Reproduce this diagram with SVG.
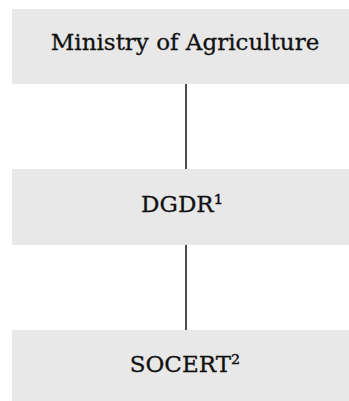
<svg xmlns="http://www.w3.org/2000/svg" width="349" height="401" viewBox="0 0 349 401">
<style>
.box{fill:#e8e8e8}
.lbl{font-family:"DejaVu Serif","Liberation Serif",serif;font-size:23px;fill:#111;stroke:#111;stroke-width:0.3;text-anchor:middle}
.conn{stroke:#111;stroke-width:1.5;fill:none}
</style>
<rect width="349" height="401" fill="#ffffff"/>
<g id="connectors">
<line class="conn" x1="186" y1="84" x2="186" y2="173"/>
<line class="conn" x1="186" y1="245" x2="186" y2="333"/>
</g>
<g id="ministry">
<rect class="box" x="12" y="9" width="337" height="75"/>
<text class="lbl" x="185" y="50">Ministry of Agriculture</text>
</g>
<g id="dgdr">
<rect class="box" x="12" y="169" width="337" height="76"/>
<text class="lbl" x="182" y="212">DGDR¹</text>
</g>
<g id="socert">
<rect class="box" x="12" y="330" width="337" height="71"/>
<text class="lbl" x="185" y="372">SOCERT²</text>
</g>
</svg>
